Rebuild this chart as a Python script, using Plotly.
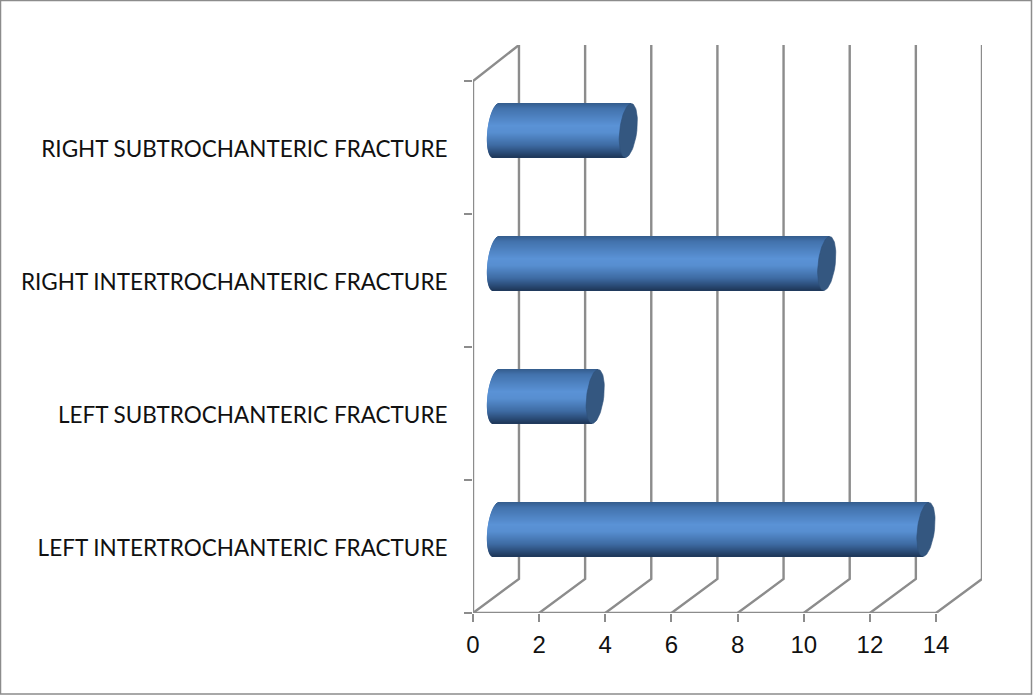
import math
import plotly.graph_objects as go

# Chart data
categories = [
    "LEFT INTERTROCHANTERIC FRACTURE",
    "LEFT SUBTROCHANTERIC FRACTURE",
    "RIGHT INTERTROCHANTERIC FRACTURE",
    "RIGHT SUBTROCHANTERIC FRACTURE",
]
values = [13, 3, 10, 4]
x_ticks = [0, 2, 4, 6, 8, 10, 12, 14]

# Page and plot frame, in pixels
WIDTH, HEIGHT = 1033, 695
MARGIN = dict(l=473, r=51, t=45, b=82)
plot_w = WIDTH - MARGIN["l"] - MARGIN["r"]
plot_h = HEIGHT - MARGIN["t"] - MARGIN["b"]

# Oblique box depth, in axis units
DEPTH_X = 1.39
DEPTH_Y = 0.256
X_MAX = 14 + DEPTH_X
Y_TOP = 4.271
px_x = X_MAX / plot_w
px_y = Y_TOP / plot_h

# Cylinder shape
BAR_HALF = 27 * px_y
CAP_RX = 8.6 * px_x
CAP_SKEW = 3.0 * px_x
BAND_COUNT = 54

GRID = "#8c8c8c"
CAP_COLOR = "#345780"
STOPS = [
    (0.00, (52, 92, 140)),
    (0.10, (66, 114, 172)),
    (0.42, (90, 146, 214)),
    (0.55, (87, 142, 208)),
    (0.78, (62, 107, 163)),
    (0.92, (42, 75, 118)),
    (1.00, (31, 56, 90)),
]


def shade(f):
    for (a, ca), (b, cb) in zip(STOPS, STOPS[1:]):
        if f <= b:
            k = (f - a) / (b - a)
            r, g, bl = (round(u + (v - u) * k) for u, v in zip(ca, cb))
            return f"rgb({r},{g},{bl})"
    return f"rgb{STOPS[-1][1]}"


fig = go.Figure()


def add_line(xs, ys, color=GRID, width=2.4):
    fig.add_trace(go.Scatter(
        x=xs, y=ys, mode="lines", cliponaxis=False, hoverinfo="skip",
        showlegend=False, line=dict(color=color, width=width),
    ))


# Box walls and floor
n = len(categories)
add_line([0, 0, DEPTH_X], [0, n, Y_TOP])
add_line([x_ticks[0], x_ticks[-1]], [0, 0])
for t in x_ticks:
    add_line([t, t + DEPTH_X, t + DEPTH_X], [0, DEPTH_Y, Y_TOP])

# Cylinder bodies, built from thin shaded bands
for b in range(BAND_COUNT):
    f = (b + 0.5) / BAND_COUNT
    u = 1 - 2 * f
    bulge = CAP_RX * math.sqrt(max(0.0, 1 - u * u))
    xs, ys = [], []
    for i, v in enumerate(values):
        start = DEPTH_X / 2 + CAP_SKEW * u
        yc = i + 0.5 + DEPTH_Y / 2 + BAR_HALF * u
        xs += [start - bulge, start + v, None]
        ys += [yc, yc, None]
    add_line(xs, ys, color=shade(f), width=2)

# End caps
for i, v in enumerate(values):
    cx = DEPTH_X / 2 + v
    cy = i + 0.5 + DEPTH_Y / 2
    angles = [2 * math.pi * a / 72 for a in range(73)]
    fig.add_trace(go.Scatter(
        x=[cx + CAP_RX * math.cos(a) + CAP_SKEW * math.sin(a) for a in angles],
        y=[cy + BAR_HALF * math.sin(a) for a in angles],
        mode="lines", fill="toself", fillcolor=CAP_COLOR, cliponaxis=False,
        hoverinfo="skip", showlegend=False,
        line=dict(color="#2f5078", width=0.6),
    ))

LABEL_FONT = dict(family="Lato, Liberation Sans, sans-serif", size=22.5, color="#111111")
TICK_FONT = dict(family="Liberation Sans, sans-serif", size=24, color="#111111")

fig.update_layout(
    width=WIDTH, height=HEIGHT, margin=MARGIN,
    paper_bgcolor="white", plot_bgcolor="white", showlegend=False,
    xaxis=dict(
        range=[0, X_MAX], tickmode="array", tickvals=x_ticks, automargin=False,
        ticks="outside", ticklen=8, tickwidth=2, tickcolor=GRID, ticklabelstandoff=2,
        showgrid=False, zeroline=False, showline=False, tickfont=TICK_FONT,
    ),
    yaxis=dict(
        range=[0, Y_TOP], tickmode="array", automargin=False,
        tickvals=[i + 0.5 for i in range(n)], ticktext=categories,
        ticks="outside", ticklen=20, tickcolor="rgba(0,0,0,0)", ticklabelshift=2,
        minor=dict(tickmode="array", tickvals=list(range(n + 1)),
                   ticks="outside", ticklen=8, tickwidth=2, tickcolor=GRID),
        showgrid=False, zeroline=False, showline=False, tickfont=LABEL_FONT,
    ),
    shapes=[dict(
        type="rect", xref="paper", yref="paper", layer="below",
        x0=(0.5 - MARGIN["l"]) / plot_w, x1=(WIDTH - 1.5 - MARGIN["l"]) / plot_w,
        y0=(1 - MARGIN["b"]) / plot_h, y1=(HEIGHT - 0.5 - MARGIN["b"]) / plot_h,
        line=dict(color=GRID, width=1.5),
    )],
)

fig.write_html("out.html")
